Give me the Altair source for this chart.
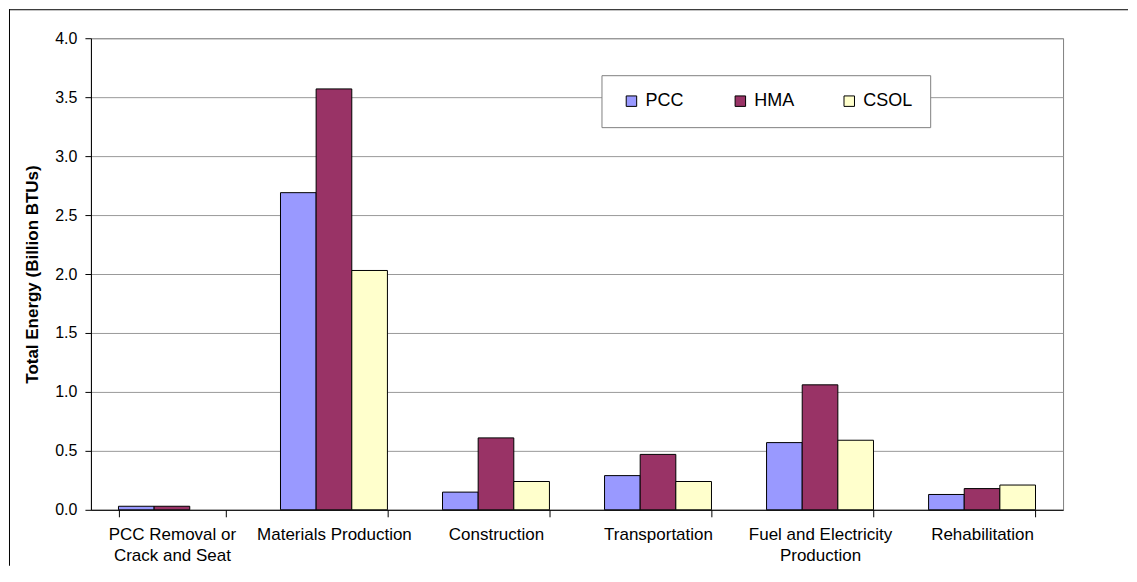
import altair as alt
import pandas as pd

categories = [
    "PCC Removal or\nCrack and Seat",
    "Materials Production",
    "Construction",
    "Transportation",
    "Fuel and Electricity\nProduction",
    "Rehabilitation",
]
series = ["PCC", "HMA", "CSOL"]
colors = ["#9999FF", "#993366", "#FFFFCC"]
pcc = [0.03, 2.69, 0.15, 0.29, 0.57, 0.13]
hma = [0.03, 3.57, 0.61, 0.47, 1.06, 0.18]
csol = [0.0, 2.03, 0.24, 0.24, 0.59, 0.21]

rows = []
for name, vals in zip(series, [pcc, hma, csol]):
    for c, v in zip(categories, vals):
        if v > 0:
            rows.append({"category": c, "series": name, "value": v})
df = pd.DataFrame(rows)

FONT = "Liberation Sans"

bars = alt.Chart(df).mark_bar(stroke="black", strokeWidth=1).encode(
    x=alt.X(
        "category:N",
        sort=categories,
        scale=alt.Scale(paddingInner=0.34, paddingOuter=0.17),
        axis=alt.Axis(
            title=None,
            labelAngle=0,
            labelExpr="split(datum.label, '\\n')",
            labelFontSize=17,
            labelFont=FONT,
            labelColor="black",
            labelLineHeight=21,
            labelPadding=10,
            tickBand="extent",
            tickSize=7,
            tickColor="black",
            domainColor="black",
            grid=False,
        ),
    ),
    xOffset=alt.XOffset("series:N", sort=series, scale=alt.Scale(paddingInner=0, paddingOuter=0)),
    y=alt.Y(
        "value:Q",
        scale=alt.Scale(domain=[0, 4], nice=False),
        axis=alt.Axis(
            title="Total Energy (Billion BTUs)",
            titleFont=FONT,
            titleFontSize=17,
            titleFontWeight="bold",
            titleColor="black",
            titlePadding=13,
            values=[0, 0.5, 1, 1.5, 2, 2.5, 3, 3.5, 4],
            format=".1f",
            labelFont=FONT,
            labelFontSize=16,
            labelColor="black",
            labelPadding=8,
            tickSize=6,
            tickColor="black",
            domainColor="black",
            grid=True,
            gridColor="#999999",
        ),
    ),
    color=alt.Color(
        "series:N",
        sort=series,
        scale=alt.Scale(domain=series, range=colors),
        legend=alt.Legend(
            title=None,
            orient="none",
            legendX=511,
            legendY=37,
            direction="horizontal",
            columns=3,
            fillColor="white",
            strokeColor="#808080",
            padding=17,
            symbolType="square",
            symbolSize=110,
            symbolStrokeColor="black",
            symbolStrokeWidth=1,
            symbolOffset=4,
            labelFont=FONT,
            labelFontSize=18,
            labelColor="black",
            labelOffset=5,
            gridAlign="all",
            columnPadding=32,
        ),
    ),
)

one = pd.DataFrame({"a": [0]})
top_border = alt.Chart(one).mark_rule(color="black", strokeWidth=1).encode(
    x=alt.value(-82),
    x2=alt.value(1038),
    y=alt.value(-28.5),
)
left_border = alt.Chart(one).mark_rule(color="black", strokeWidth=1).encode(
    x=alt.value(-81.5),
    y=alt.value(-29),
    y2=alt.value(528),
)

chart = alt.layer(bars, top_border, left_border).properties(
    width=973, height=472, padding=0
).configure_view(stroke="#808080", strokeWidth=1)

chart.save("out.html", embed_options={"renderer": "svg", "actions": False})
